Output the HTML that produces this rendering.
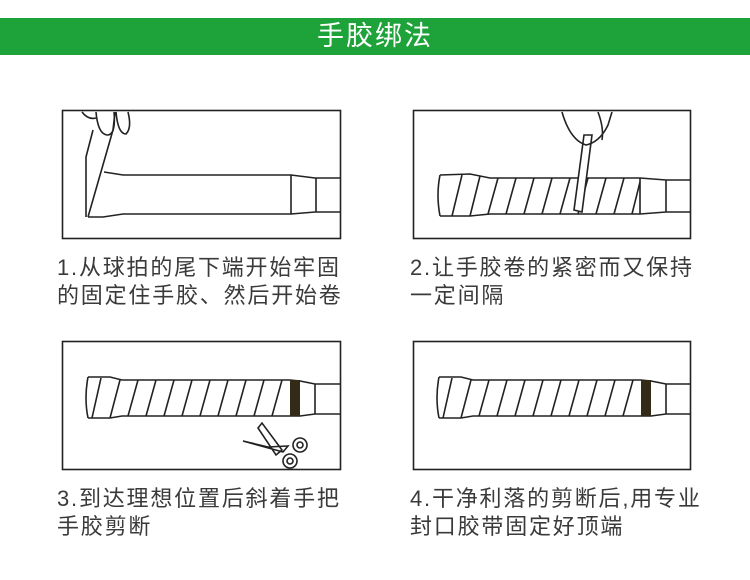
<!DOCTYPE html>
<html><head><meta charset="utf-8"><style>
body{margin:0;width:750px;height:580px;background:#fff;overflow:hidden;position:relative;font-family:"Liberation Sans","Noto Sans CJK SC",sans-serif}
.hd{position:absolute;left:0;top:18px;width:750px;height:37px;background:#1ea33a;color:#fff;font-size:27px;text-align:center;line-height:37px;letter-spacing:2px}
.t{position:absolute;font-size:22px;color:#3a3a3a;line-height:28px;letter-spacing:1.8px;white-space:nowrap}
svg{position:absolute;left:0;top:0}
</style></head><body>
<div class="hd">手胶绑法</div>
<svg width="750" height="580" fill="none" stroke="#222" stroke-width="1.6">
<rect x="62.5" y="110.5" width="278" height="128"/>
<rect x="413.5" y="110.5" width="277" height="128"/>
<rect x="62.5" y="341.5" width="278" height="128"/>
<rect x="413.5" y="341.5" width="277" height="128"/>
<path d="M104 172 L123 175 L291 175 L315 178 L340 178 M88 217 L103 217 L123 214 L291 214 L315 212 L340 212 M291 175 V214 M316 178 V212"/>
<path d="M86 217 V157 L93 130 M88 217 L113 130 M113 130 L115 112" fill="#fff"/>
<path d="M96 112 Q98 135 108 135 Q116 134 114 112 M116 112 Q118 134 126 134 Q132 128 128 112 M82 112 Q88 120 96 118"/>
<path d="M440 175 L470 174 L490 178 L640 178 L666 180 L690 180 M440 216 L470 216 L490 214 L640 214 L666 212 L690 212 M440 175 Q436 195 440 216 M640 178 V214 M666 180 V212"/>
<path d="M452 216 L462 175 M470 216 L480 176 M488 214 L498 178 M506 214 L516 178 M524 214 L534 178 M542 214 L552 178 M560 214 L570 178 M578 214 L588 178 M596 214 L606 178 M614 214 L624 178 M632 214 L640 182"/>
<path d="M574 210 L584 135 L592 135 L582 212 Z" fill="#fff"/>
<path d="M562 112 Q570 140 586 145 Q600 142 608 125 L612 112 M598 112 Q604 128 602 140"/>
<g id="h3">
<path d="M88 377 L110 377 L122 380 L290 380 L300 381 L315 384 L340 384 M88 418 L110 418 L122 416 L290 416 L300 416 L315 414 L340 414 M88 377 Q84 398 88 418 M315 384 V414"/>
<path d="M92 418 L101 378 M110 418 L120 380 M128 416 L138 380 M146 416 L156 380 M164 416 L174 380 M182 416 L192 380 M200 416 L210 380 M218 416 L228 380 M236 416 L246 380 M254 416 L264 380 M272 416 L282 380"/>
<rect x="290" y="380" width="10" height="36" fill="#332b18" stroke="none"/>
</g>
<path d="M258 428 L262 423 L282 450 L276 455 Z M243 441 L268 447 L288 446 L283 452 Z" fill="#fff"/>
<circle cx="300" cy="445" r="7"/><circle cx="300" cy="445" r="3"/>
<circle cx="290" cy="461" r="7"/><circle cx="290" cy="461" r="3"/>
<use href="#h3" transform="translate(351 0)"/>
</svg>
<div class="t" style="left:57px;top:254px">1.从球拍的尾下端开始牢固<br>的固定住手胶、然后开始卷</div>
<div class="t" style="left:410px;top:254px">2.让手胶卷的紧密而又保持<br>一定间隔</div>
<div class="t" style="left:57px;top:485px">3.到达理想位置后斜着手把<br>手胶剪断</div>
<div class="t" style="left:410px;top:485px">4.干净利落的剪断后,用专业<br>封口胶带固定好顶端</div>
</body></html>
